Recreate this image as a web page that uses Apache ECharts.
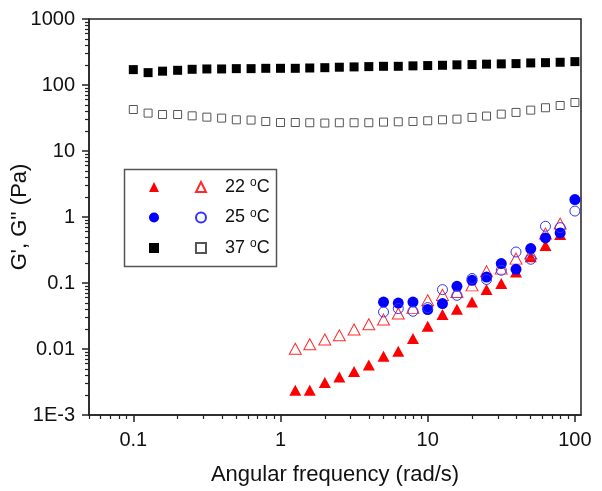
<!DOCTYPE html>
<html><head><meta charset="utf-8">
<script src="https://cdn.jsdelivr.net/npm/echarts@6/dist/echarts.min.js"></script>
<style>html,body{margin:0;padding:0;background:#fff}#c{width:602px;height:491px}</style>
</head><body><div id="c"></div>
<script>
// Angular frequency (rad/s)
const freq = [0.1,0.126,0.158,0.2,0.251,0.316,0.398,0.501,0.631,0.794,
  1,1.26,1.58,2,2.51,3.16,3.98,5.01,6.31,7.94,
  10,12.6,15.8,20,25.1,31.6,39.8,50.1,63.1,79.4,100];
// 37 C (all frequencies)
const gp37  = [171,154,162,167,173,175,175,177,177,179,179,179,181,183,186,188,190,192,192,195,197,199,202,204,207,209,211,216,218,221,226];
const gpp37 = [42.5,37.5,35.7,35.7,34.1,32.6,31.5,29.7,29.4,28.0,27.0,27.0,26.8,26.5,26.8,26.8,26.8,27.4,27.7,28.0,28.7,29.7,30.4,32.3,33.8,36.2,38.4,41.6,45.2,48.9,54.3];
// 22 C (1.26 .. 79.4 rad/s)
const freq22 = [1.26,1.58,2,2.51,3.16,3.98,5.01,6.31,7.94,10,12.6,15.8,20,25.1,31.6,39.8,50.1,63.1,79.4];
const gp22  = [0.00237,0.00237,0.0031,0.00377,0.00455,0.00573,0.00775,0.00923,0.0144,0.0221,0.0333,0.040,0.0515,0.0794,0.098,0.147,0.25,0.369,0.541];
const gpp22 = [0.0101,0.0118,0.0139,0.0161,0.0197,0.0237,0.0279,0.0344,0.042,0.0547,0.066,0.073,0.092,0.150,0.165,0.234,0.279,0.56,0.794];
// 25 C (5.01 .. 100 rad/s)
const freq25 = [5.01,6.31,7.94,10,12.6,15.8,20,25.1,31.6,39.8,50.1,63.1,79.4,100];
const gp25  = [0.0515,0.0497,0.0515,0.0396,0.0487,0.089,0.11,0.123,0.197,0.161,0.332,0.481,0.573,1.84];
const gpp25 = [0.0364,0.041,0.0373,0.0424,0.0794,0.065,0.117,0.113,0.156,0.295,0.229,0.723,0.69,1.23];

const xMajor = [0.1,1,10,100];
const xMajorLabels = ['0.1','1','10','100'];
const xMinor = [0.05,0.06,0.07,0.08,0.09,0.2,0.3,0.4,0.5,0.6,0.7,0.8,0.9,2,3,4,5,6,7,8,9,20,30,40,50,60,70,80,90];
const yMajor = [0.001,0.01,0.1,1,10,100,1000];
const yMajorLabels = ['1E-3','0.01','0.1','1','10','100','1000'];
const yMinor = [0.002,0.003,0.004,0.005,0.006,0.007,0.008,0.009,0.02,0.03,0.04,0.05,0.06,0.07,0.08,0.09,
  0.2,0.3,0.4,0.5,0.6,0.7,0.8,0.9,2,3,4,5,6,7,8,9,20,30,40,50,60,70,80,90,200,300,400,500,600,700,800,900];

const FONT = 'Liberation Sans, Arial, sans-serif';
const AX = '#222';
function fmt(v, vals, labs){
  for (let i=0;i<vals.length;i++){ if (Math.abs(Math.log10(v)-Math.log10(vals[i]))<1e-6) return labs[i]; }
  return '';
}
function pairs(xs, ys){ return xs.map((x,i)=>[x, ys[i]]); }

const chart = echarts.init(document.getElementById('c'), null, {renderer:'canvas'});

const baseX = {type:'log', min:0.05, max:110, gridIndex:0, position:'bottom', splitLine:{show:false}};
const baseY = {type:'log', min:0.001, max:1000, gridIndex:0, position:'left', splitLine:{show:false}};

const series = [
  {name:"G' 22", type:'scatter', data:pairs(freq22,gp22), symbol:'triangle', symbolSize:[12,11], itemStyle:{color:'#ff0000', opacity:1}},
  {name:"G'' 22", type:'scatter', data:pairs(freq22,gpp22), symbol:'triangle', symbolSize:[12,11], itemStyle:{color:'rgba(255,255,255,0)', borderColor:'#ff2a2a', borderWidth:1, opacity:1}},
  {name:"G' 25", type:'scatter', data:pairs(freq25,gp25), symbol:'circle', symbolSize:11, itemStyle:{color:'#0000ff', opacity:1}},
  {name:"G'' 25", type:'scatter', data:pairs(freq25,gpp25), symbol:'circle', symbolSize:10, itemStyle:{color:'rgba(255,255,255,0)', borderColor:'#3333ff', borderWidth:1, opacity:1}},
  {name:"G' 37", type:'scatter', data:pairs(freq,gp37), symbol:'rect', symbolSize:9, itemStyle:{color:'#000000', opacity:1}},
  {name:"G'' 37", type:'scatter', data:pairs(freq,gpp37), symbol:'rect', symbolSize:8, itemStyle:{color:'rgba(255,255,255,0)', borderColor:'#555555', borderWidth:1, opacity:1}}
];
series.forEach(s=>{ s.xAxisIndex=0; s.yAxisIndex=0; s.emphasis={disabled:true}; s.z=2; });

chart.setOption({
  animation:false,
  backgroundColor:'#fff',
  textStyle:{fontFamily:FONT},
  grid:{left:89, right:21, top:19, bottom:76, show:true, borderColor:AX, borderWidth:1.5, backgroundColor:'transparent', outerBoundsMode:'none', containLabel:false},
  xAxis:[
    Object.assign({}, baseX, {
      name:'Angular frequency (rad/s)', nameLocation:'middle', nameGap:49, nameMoveOverlap:false,
      nameTextStyle:{fontSize:22, color:'#111', fontFamily:FONT},
      axisLine:{show:true, lineStyle:{color:AX, width:1.5}},
      axisTick:{show:true, inside:false, length:4, customValues:xMinor, lineStyle:{color:AX, width:1.2}},
      axisLabel:{show:true, customValues:xMajor, fontSize:20, color:'#111', margin:15, fontFamily:FONT,
        formatter:v=>fmt(v,xMajor,xMajorLabels)}
    }),
    Object.assign({}, baseX, {
      axisLine:{show:false},
      axisTick:{show:true, inside:false, length:7, customValues:xMajor, lineStyle:{color:AX, width:1.5}},
      axisLabel:{show:false}
    })
  ],
  yAxis:[
    Object.assign({}, baseY, {
      name:"G', G'' (Pa)", nameLocation:'middle', nameGap:58, nameRotate:90, nameMoveOverlap:false,
      nameTextStyle:{fontSize:22, color:'#111', fontFamily:FONT},
      axisLine:{show:true, lineStyle:{color:AX, width:1.5}},
      axisTick:{show:true, inside:false, length:4, customValues:yMinor, lineStyle:{color:AX, width:1.2}},
      axisLabel:{show:true, customValues:yMajor, fontSize:20, color:'#111', margin:14, fontFamily:FONT,
        formatter:v=>fmt(v,yMajor,yMajorLabels)}
    }),
    Object.assign({}, baseY, {
      axisLine:{show:false},
      axisTick:{show:true, inside:false, length:7, customValues:yMajor, lineStyle:{color:AX, width:1.5}},
      axisLabel:{show:false}
    })
  ],
  legend:[
    {data:["G' 22","G' 25","G' 37"], orient:'vertical', left:149, top:177, padding:0, itemWidth:10, itemHeight:10, itemGap:10.5,
      selectedMode:false, formatter:()=>' ', textStyle:{fontSize:18, lineHeight:20, fontFamily:FONT}},
    {data:["G'' 22","G'' 25","G'' 37"], orient:'vertical', left:195, top:177, padding:0, itemWidth:10, itemHeight:10, itemGap:10.5,
      selectedMode:false,
      formatter:name=>{ const t = name.split(' ')[1]; return '{n|'+t+' }{s|o}{n|C}'; },
      textStyle:{fontSize:18, lineHeight:20, color:'#111', fontFamily:FONT,
        rich:{n:{fontSize:18, lineHeight:20, color:'#111', fontFamily:FONT},
              s:{fontSize:12, lineHeight:8, color:'#111', fontFamily:FONT, verticalAlign:'top'}},
        padding:[0,0,0,14]}}
  ],
  graphic:[{type:'rect', left:122, top:167, shape:{width:152, height:97}, style:{fill:'none', stroke:'#555', lineWidth:1.5}, silent:true}],
  series:series
});
</script></body></html>
